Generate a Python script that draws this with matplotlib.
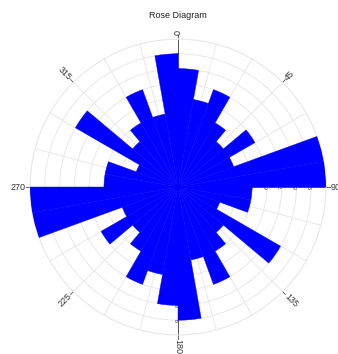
import numpy as np
import matplotlib
matplotlib.use('Agg')
import matplotlib.pyplot as plt

plt.rcParams['font.family'] = ['Liberation Sans', 'DejaVu Sans']

# 10 degree bins, counts
bin_start = list(range(0, 360, 10))
counts = [8, 6, 7, 5, 4, 6, 4, 10, 10, 5, 5, 3, 8, 4, 5, 7, 5, 9,
          8, 6, 7, 5, 4, 6, 4, 10, 10, 5, 5, 3, 8, 4, 5, 7, 5, 9]
ring_values = [1, 2, 3, 4, 5, 6, 7, 8, 9, 10]
ring_labels = ['1', '2', '3', '4', '5', '6', '7', '8', '9']
angle_labels = [0, 45, 90, 135, 180, 225, 270, 315]

fig = plt.figure(figsize=(3.38, 3.54), dpi=100)
ax = fig.add_axes([30 / 338, 19 / 354, 296 / 338, 296 / 354], projection='polar')
ax.set_theta_zero_location('N')
ax.set_theta_direction(-1)
ax.set_ylim(0, 10)

# grid: rings every unit, spokes every 15 degrees
ax.set_rgrids(ring_values, labels=[''] * len(ring_values))
ax.set_thetagrids(np.arange(0, 360, 15), labels=[''] * 24)
ax.grid(color='#e8e8e8', linewidth=0.7)
ax.spines['polar'].set_color('#e8e8e8')
ax.spines['polar'].set_linewidth(0.7)
ax.tick_params(length=0, pad=0)
ax.set_axisbelow(True)

# the four radial axes with tick labels (sit under the bars)
for a in [0, 90, 180, 270]:
    t = np.radians(a)
    ax.plot([t, t], [0, 10], color='#555555', linewidth=0.7, zorder=1)
    for v, lab in zip(ring_values[:-1], ring_labels):
        ax.text(t, v, lab, fontsize=4.5, color='#444444', rotation=90,
                ha='center', va='center', zorder=1)
ax.plot([0], [0], 'o', color='#333333', markersize=3, zorder=1)

# bars
theta = np.radians(np.array(bin_start) + 5)
ax.bar(theta, counts, width=np.radians(10), color='#0000ff',
       edgecolor='#0000ff', linewidth=0.3, zorder=3)

# angular labels, oriented along the radius
for a in angle_labels:
    t = np.radians(a)
    ax.plot([t, t], [10, 10.25], color='#666666', linewidth=0.7, clip_on=False)
    phi = (90 - a + 180) % 360 - 180
    if -90 <= phi <= 90:
        rot, ha = phi, 'left'
    else:
        rot, ha = (phi + 360) % 360 - 180, 'right'
    ax.text(t, 10.3, str(a), fontsize=6.5, color='#333333', rotation=rot,
            rotation_mode='anchor', ha=ha, va='center', clip_on=False)

fig.text(178 / 338, 1 - 16 / 354, 'Rose Diagram', fontsize=6.5,
         color='#222222', ha='center', va='center')

fig.savefig('out.png', dpi=100)
